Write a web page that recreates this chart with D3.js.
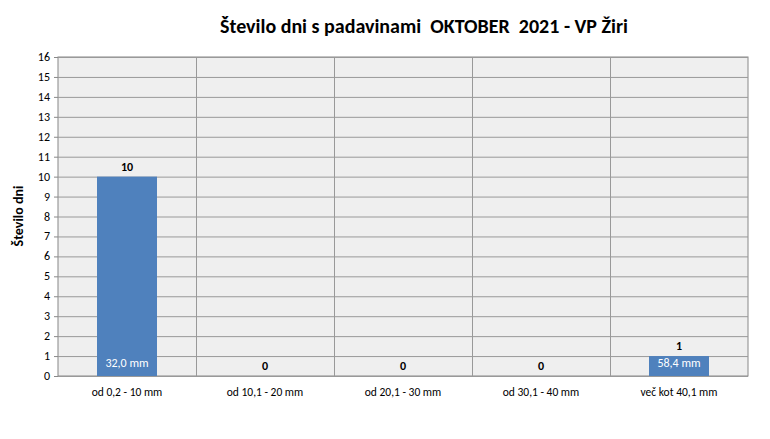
<!DOCTYPE html>
<html><head><meta charset="utf-8">
<script src="https://d3js.org/d3.v7.min.js"></script>
<style>body{margin:0;background:#fff;font-family:Calibri,"Liberation Sans",Arial,sans-serif}</style>
</head><body><svg id="c" width="770" height="439"></svg>
<script>
var categories = ["od 0,2 - 10 mm","od 10,1 - 20 mm","od 20,1 - 30 mm","od 30,1 - 40 mm","več kot 40,1 mm"];
var days = [10,0,0,0,1];
var amounts = ["32,0 mm","","","","58,4 mm"];
var yTicks = d3.range(0,17);

var svg = d3.select("#c");
var m = {l:58, r:748, t:57, b:376};
var x = d3.scaleBand().domain(categories).range([m.l,m.r]);
var y = d3.scaleLinear().domain([0,16]).range([m.b,m.t]);

svg.append("rect").attr("x",m.l).attr("y",m.t).attr("width",m.r-m.l).attr("height",m.b-m.t)
  .attr("fill","#efefef").attr("stroke","#888");
svg.selectAll(".gy").data(yTicks).enter().append("line")
  .attr("x1",m.l).attr("x2",m.r).attr("y1",d=>y(d)+0.5).attr("y2",d=>y(d)+0.5).attr("stroke","#999");
svg.selectAll(".gx").data(categories.slice(1)).enter().append("line")
  .attr("x1",d=>x(d)+0.5).attr("x2",d=>x(d)+0.5).attr("y1",m.t).attr("y2",m.b).attr("stroke","#999");
svg.selectAll(".ty").data(yTicks).enter().append("text")
  .attr("x",m.l-8).attr("y",d=>y(d)+4).attr("text-anchor","end").attr("font-size",12).text(d=>d);
svg.selectAll(".tk").data(yTicks).enter().append("line")
  .attr("x1",m.l-4).attr("x2",m.l).attr("y1",d=>y(d)+0.5).attr("y2",d=>y(d)+0.5).attr("stroke","#888");
svg.selectAll(".tx").data(categories).enter().append("text")
  .attr("x",d=>x(d)+x.bandwidth()/2).attr("y",m.b+20).attr("text-anchor","middle").attr("font-size",11.5).text(d=>d);

var bw = 60;
svg.selectAll(".bar").data(days).enter().append("rect")
  .attr("x",(d,i)=>x(categories[i])+x.bandwidth()/2-bw/2).attr("width",bw)
  .attr("y",d=>y(d)).attr("height",d=>m.b-y(d)).attr("fill","#4f81bd");
svg.selectAll(".vl").data(days).enter().append("text")
  .attr("x",(d,i)=>x(categories[i])+x.bandwidth()/2).attr("y",d=>y(d)-6)
  .attr("text-anchor","middle").attr("font-size",12).attr("font-weight","bold").text(d=>d);
svg.selectAll(".am").data(amounts).enter().append("text")
  .attr("x",(d,i)=>x(categories[i])+x.bandwidth()/2).attr("y",m.b-9)
  .attr("text-anchor","middle").attr("font-size",12).attr("fill","#fff").text(d=>d);

svg.append("text").attr("x",424).attr("y",33).attr("text-anchor","middle").style("white-space","pre")
  .attr("font-size",20).attr("font-weight","bold").text("Število dni s padavinami  OKTOBER  2021 - VP Žiri");
svg.append("text").attr("transform","translate(23,216) rotate(-90)").attr("text-anchor","middle")
  .attr("font-size",14).attr("font-weight","bold").text("Število dni");
</script></body></html>
